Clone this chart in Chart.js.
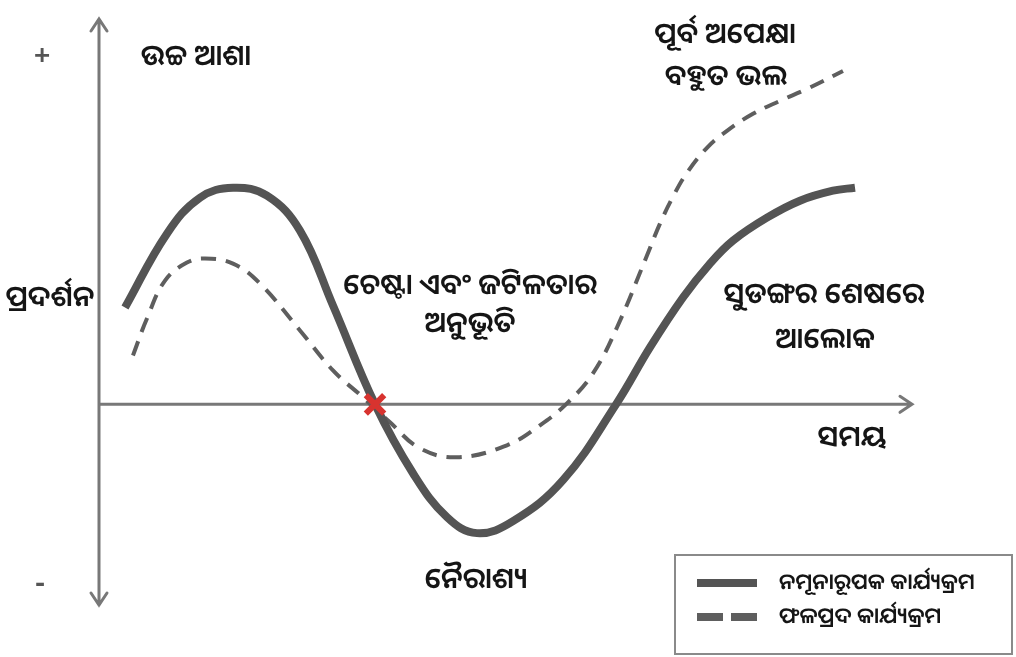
<!DOCTYPE html>
<html>
<head>
<meta charset="utf-8">
<script src="https://cdn.jsdelivr.net/npm/chart.js@4.4.1/dist/chart.umd.min.js"></script>
<style>
  body { margin: 0; background: #fff; }
  #wrap { position: relative; width: 1016px; height: 657px; }
</style>
</head>
<body>
<div id="wrap"><canvas id="curveChart"></canvas></div>
<script>
// time runs 0..100 along the axis, performance in units above/below the time axis
const sampleTime = [3.2, 8.36, 12.42, 16.48, 20.66, 24.72, 28.78, 33.95, 38.62, 42.8, 46.49, 50.92, 57.07, 63.6, 67.77, 71.83, 75.15, 77.98, 82.16, 86.22, 90.28, 92.99];
const samplePerf = [9.7, 17.1, 20.7, 21.7, 20.9, 17.4, 9.9, 0, -6.9, -11.3, -12.9, -11.7, -7.6, 0, 5.7, 10.7, 14.1, 16.4, 18.7, 20.4, 21.4, 21.7];

const effectiveTime = [4.18, 5.9, 8.12, 10.82, 13.04, 16.48, 19.8, 24.72, 28.78, 32.47, 35.79, 39.48, 44.03, 50.18, 54.24, 57.56, 60.76, 63.71, 67.4, 69.0, 70.6, 72.32, 74.78, 77.24, 80.44, 83.76, 87.08, 91.51];
const effectivePerf = [4.9, 8.6, 12.4, 14.2, 14.6, 14.1, 12.1, 7.4, 3.4, 0.7, -1.8, -4.4, -5.3, -4.1, -2.1, 0.1, 3.1, 7.7, 14.9, 18.1, 20.8, 23.2, 25.7, 27.4, 29.1, 30.4, 31.6, 33.4];

const crossTime = [33.95];
const crossPerf = [0];

const seriesLabels = ['ନମୂନାରୂପକ କାର୍ଯ୍ୟକ୍ରମ', 'ଫଳପ୍ରଦ କାର୍ଯ୍ୟକ୍ରମ'];
const axisTitleY = 'ପ୍ରଦର୍ଶନ';
const axisTitleX = 'ସମୟ';
const signLabels = ['+', '-'];
const noteTexts = ['ଉଚ୍ଚ ଆଶା', 'ପୂର୍ବ ଅପେକ୍ଷା', 'ବହୁତ ଭଲ', 'ଚେଷ୍ଟା ଏବଂ ଜଟିଳତାର', 'ଅନୁଭୂତି', 'ସୁଡଙ୍ଗର ଶେଷରେ', 'ଆଲୋକ', 'ନୈରାଶ୍ୟ'];

const FONT = '"Noto Sans Oriya", "Lohit Odia", "Noto Sans", sans-serif';

function pts(xs, ys) {
    return xs.map((x, i) => ({ x: x, y: ys[i] }));
}

// axes with arrow heads, drawn on the scale positions
const axesPlugin = {
    id: 'axesArrows',
    beforeDatasetsDraw(chart) {
        const { ctx, chartArea, scales } = chart;
        const x0 = scales.x.getPixelForValue(0);
        const y0 = scales.y.getPixelForValue(0);
        ctx.save();
        ctx.strokeStyle = '#787878';
        ctx.lineWidth = 3;
        ctx.lineCap = 'round';
        ctx.beginPath();
        ctx.moveTo(x0, chartArea.top);
        ctx.lineTo(x0, chartArea.bottom);
        ctx.moveTo(x0, y0);
        ctx.lineTo(chartArea.right, y0);
        // top arrow
        ctx.moveTo(x0 - 8, chartArea.top + 12);
        ctx.lineTo(x0, chartArea.top);
        ctx.lineTo(x0 + 8, chartArea.top + 12);
        // bottom arrow
        ctx.moveTo(x0 - 8, chartArea.bottom - 12);
        ctx.lineTo(x0, chartArea.bottom);
        ctx.lineTo(x0 + 8, chartArea.bottom - 12);
        // right arrow
        ctx.moveTo(chartArea.right - 12, y0 - 8);
        ctx.lineTo(chartArea.right, y0);
        ctx.lineTo(chartArea.right - 12, y0 + 8);
        ctx.stroke();
        ctx.restore();
    }
};

// text labels + legend box
const notesPlugin = {
    id: 'notes',
    afterDatasetsDraw(chart) {
        const ctx = chart.ctx;
        ctx.save();
        ctx.textBaseline = 'middle';
        ctx.textAlign = 'center';

        ctx.fillStyle = '#555';
        ctx.font = '600 30px ' + FONT;
        ctx.fillText(signLabels[0], 42, 56);
        ctx.fillText(signLabels[1], 40, 584);

        ctx.fillStyle = '#151515';
        ctx.font = '600 29px ' + FONT;
        const spots = [[196, 57], [725, 35], [726, 77], [470, 286], [470, 324], [824, 295], [825, 340], [476, 580]];
        noteTexts.forEach((t, i) => ctx.fillText(t, spots[i][0], spots[i][1]));
        ctx.fillText(axisTitleY, 50, 298);
        ctx.fillText(axisTitleX, 852, 438);

        // legend
        ctx.strokeStyle = '#8a8a8a';
        ctx.lineWidth = 2;
        ctx.strokeRect(675, 555, 337, 99);
        const rows = [583, 617];
        ctx.textAlign = 'left';
        ctx.font = '600 22px ' + FONT;
        chart.data.datasets.slice(0, 2).forEach((ds, i) => {
            ctx.strokeStyle = ds.borderColor;
            ctx.lineWidth = 8;
            ctx.lineCap = 'butt';
            ctx.setLineDash(i === 1 ? [26, 8] : []);
            ctx.beginPath();
            ctx.moveTo(697, rows[i]);
            ctx.lineTo(757, rows[i]);
            ctx.stroke();
            ctx.setLineDash([]);
            ctx.fillStyle = '#151515';
            ctx.fillText(ds.label, 779, rows[i]);
        });
        ctx.restore();
    }
};

new Chart(document.getElementById('curveChart'), {
    type: 'scatter',
    data: {
        datasets: [
            {
                label: seriesLabels[0],
                data: pts(sampleTime, samplePerf),
                showLine: true,
                borderColor: '#545454',
                borderWidth: 8,
                tension: 0.4,
                pointRadius: 0,
                borderCapStyle: 'butt',
                order: 2
            },
            {
                label: seriesLabels[1],
                data: pts(effectiveTime, effectivePerf),
                showLine: true,
                borderColor: '#5e5e5e',
                borderWidth: 4,
                borderDash: [15, 10],
                tension: 0.4,
                pointRadius: 0,
                order: 3
            },
            {
                label: 'cross',
                data: pts(crossTime, crossPerf),
                pointStyle: 'crossRot',
                pointRadius: 13,
                pointBorderWidth: 6,
                pointBorderColor: '#d8332f',
                order: 1
            }
        ]
    },
    options: {
        responsive: true,
        maintainAspectRatio: false,
        animation: false,
        layout: { padding: { left: 99, right: 104, top: 18, bottom: 52 } },
        scales: {
            x: { type: 'linear', min: 0, max: 100, display: false },
            y: { type: 'linear', min: -20.1, max: 38.6, display: false }
        },
        plugins: {
            legend: { display: false },
            tooltip: { enabled: false }
        }
    },
    plugins: [axesPlugin, notesPlugin]
});
</script>
</body>
</html>
